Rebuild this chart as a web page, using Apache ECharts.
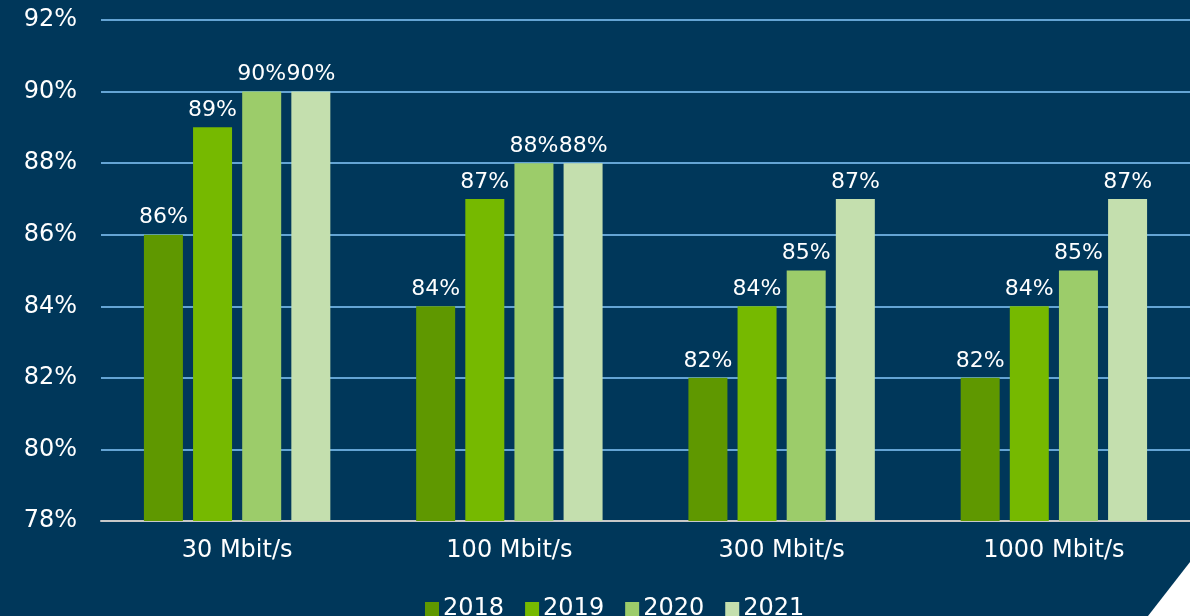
<!DOCTYPE html>
<html>
<head>
<meta charset="utf-8">
<script src="https://cdn.jsdelivr.net/npm/echarts@6/dist/echarts.min.js"></script>
<style>
html,body{margin:0;padding:0;background:#00375a;}
#c{width:1190px;height:616px;}
</style>
</head>
<body>
<div id="c"></div>
<script>
const categories = ['30 Mbit/s', '100 Mbit/s', '300 Mbit/s', '1000 Mbit/s'];
const years = ['2018', '2019', '2020', '2021'];
const v2018 = [86, 84, 82, 82];
const v2019 = [89, 87, 84, 84];
const v2020 = [90, 88, 85, 85];
const v2021 = [90, 88, 87, 87];
const yMin = 78, yMax = 92, yStep = 2;

const colors = ['#5f9800', '#76b900', '#9ccc6a', '#c4dfae'];
const seriesValues = [v2018, v2019, v2020, v2021];
const font = 'DejaVu Sans, Verdana, sans-serif';

const chart = echarts.init(document.getElementById('c'));
chart.setOption({
  backgroundColor: '#00375a',
  animation: false,
  grid: {left: 101, right: 0, top: 20, bottom: 95},
  legend: {
    left: 420, top: 592, itemWidth: 14, itemHeight: 14, itemGap: 21, itemStyle: {borderWidth: 0},
    icon: 'rect',
    textStyle: {color: '#ffffff', fontSize: 24, fontFamily: font, padding: [0, 0, 0, -1]},
    data: years
  },
  xAxis: {
    type: 'category', data: categories,
    axisLine: {lineStyle: {color: '#c8c8c8', width: 2}},
    axisTick: {show: false},
    axisLabel: {color: '#ffffff', fontSize: 24, fontFamily: font, margin: 18}
  },
  yAxis: {
    type: 'value', min: yMin, max: yMax, interval: yStep,
    axisLine: {show: false}, axisTick: {show: false},
    splitLine: {lineStyle: {color: '#64a4d4', width: 2}},
    axisLabel: {color: '#ffffff', fontSize: 24, fontFamily: font, margin: 24,
      formatter: v => v + '%'}
  },
  series: years.map((y, i) => ({
    name: y, type: 'bar', data: seriesValues[i],
    barWidth: 39, barGap: '26%',
    itemStyle: {color: colors[i]},
    label: {show: true, position: 'top', distance: 6, color: '#ffffff',
      fontSize: 22, fontFamily: font, formatter: p => p.value + '%'}
  })),
  graphic: [{
    type: 'polygon', z: 100,
    shape: {points: [[1190, 562], [1190, 616], [1148, 616]]},
    style: {fill: '#ffffff'}
  }]
});
</script>
</body>
</html>
